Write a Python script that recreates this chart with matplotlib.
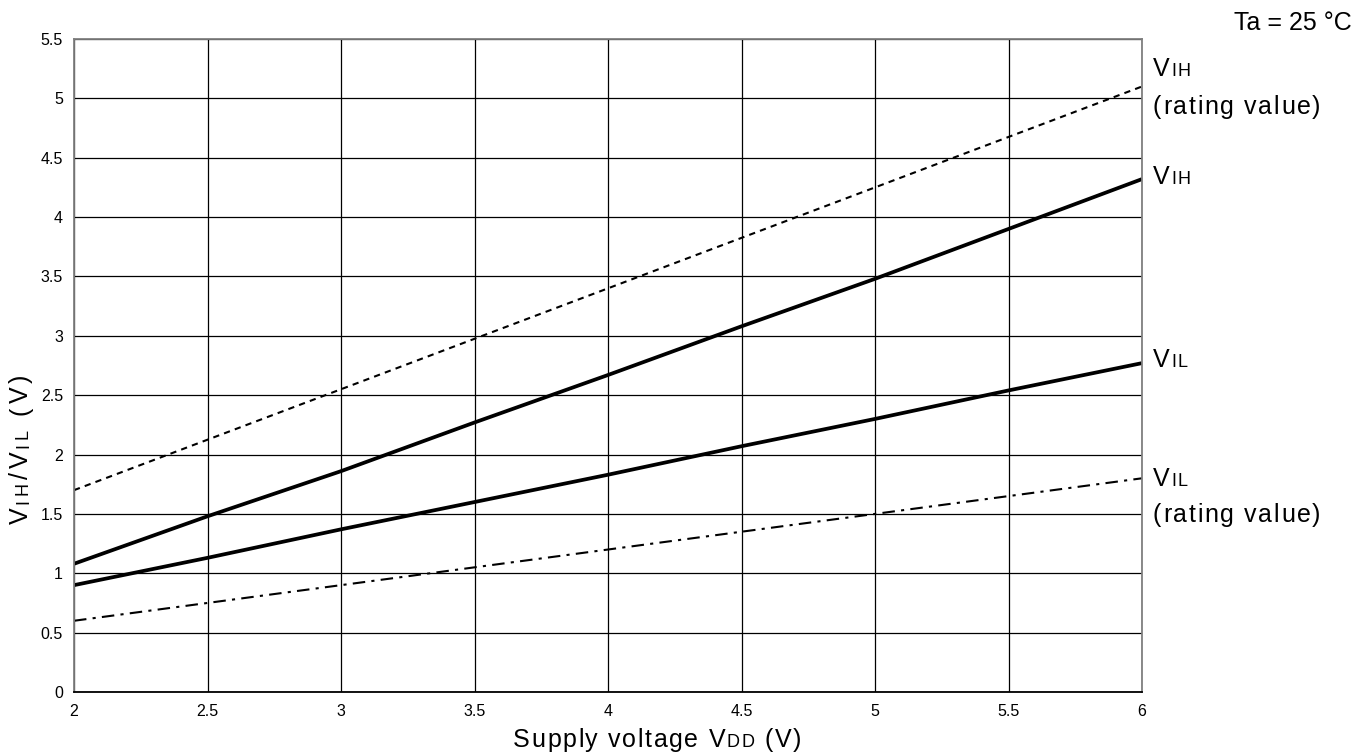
import matplotlib
matplotlib.use("Agg")
import matplotlib.pyplot as plt

plt.rcParams['font.family'] = ['Liberation Sans', 'DejaVu Sans']

vdd = [2, 2.5, 3, 3.5, 4, 4.5, 5, 5.5, 6]
vih_rating = [1.70, 2.125, 2.55, 2.975, 3.40, 3.825, 4.25, 4.675, 5.10]
vih = [1.08, 1.48, 1.86, 2.27, 2.67, 3.08, 3.48, 3.90, 4.32]
vil = [0.90, 1.13, 1.37, 1.60, 1.83, 2.07, 2.30, 2.54, 2.77]
vil_rating = [0.60, 0.75, 0.90, 1.05, 1.20, 1.35, 1.50, 1.65, 1.80]

xticks = [2, 2.5, 3, 3.5, 4, 4.5, 5, 5.5, 6]
xticklabels = ['2', '2.5', '3', '3.5', '4', '4.5', '5', '5.5', '6']
yticks = [0, 0.5, 1, 1.5, 2, 2.5, 3, 3.5, 4, 4.5, 5, 5.5]
yticklabels = ['0', '0.5', '1', '1.5', '2', '2.5', '3', '3.5', '4', '4.5', '5', '5.5']

W, H = 1372, 755
fig = plt.figure(figsize=(W/100, H/100), dpi=100)
ax = fig.add_axes([74/W, 1-692/H, (1142-74)/W, (692-39)/H])

ax.set_xlim(2, 6)
ax.set_ylim(0, 5.5)
ax.set_xticks(xticks)
ax.set_xticklabels(xticklabels, fontsize=11.5)
ax.set_yticks(yticks)
ax.set_yticklabels(yticklabels, fontsize=11.5)
ax.tick_params(length=0)
ax.tick_params(axis='x', pad=9)
ax.tick_params(axis='y', pad=8)
ax.grid(True, color='black', linewidth=0.9)
ax.set_axisbelow(True)
for s in ['left', 'right', 'top']:
    ax.spines[s].set_color('#808080')
    ax.spines[s].set_linewidth(1.3)
ax.spines['bottom'].set_color('black')
ax.spines['bottom'].set_linewidth(1.3)

ax.plot(vdd, vih_rating, color='black', linewidth=1.5, linestyle=(0, (3, 2.5)), clip_on=False)
ax.plot(vdd, vih, color='black', linewidth=2.7, solid_capstyle='butt')
ax.plot(vdd, vil, color='black', linewidth=2.7, solid_capstyle='butt')
ax.plot(vdd, vil_rating, color='black', linewidth=1.5, linestyle=(0, (6, 3, 1.5, 3)), clip_on=False)

BIG = 18
SMALL = 13
TRACK = 1.2  # extra letter spacing in points


def tracked(xpix, ypix, segments, track=TRACK, rotation=0):
    """Draw text with letter spacing; (xpix, ypix) = start point on the baseline."""
    x0, y0 = xpix / W, 1 - ypix / H
    prev = None
    pending = 0.0
    for txt, size in segments:
        for ch in txt:
            if ch == ' ':
                pending += 0.278 * size + track
                continue
            if prev is None:
                xy, xyc = (x0, y0), 'figure fraction'
                d = pending
            else:
                d = pending + track
                if rotation == 0:
                    xy, xyc = (1, y0), (prev, 'figure fraction')
                else:
                    xy, xyc = (x0, 1), ('figure fraction', prev)
            off = (d, 0) if rotation == 0 else (0, d)
            prev = ax.annotate(ch, xy=xy, xycoords=xyc, xytext=off,
                               textcoords='offset points', fontsize=size,
                               rotation=rotation, rotation_mode='anchor',
                               ha='left', va='baseline', annotation_clip=False)
            pending = 0.0
    return prev


# x label
tracked(513, 747, [("Supply voltage V", BIG), ("DD", SMALL), (" (V)", BIG)])

# y label
tracked(28, 524, [("V", BIG), ("IH", SMALL), ("/V", BIG), ("IL", SMALL), (" (V)", BIG)],
        track=2.6, rotation=90)

# right-hand labels
tracked(1153, 76, [("V", BIG), ("IH", SMALL)])
tracked(1153, 114, [("(rating value)", BIG)])
tracked(1153, 184, [("V", BIG), ("IH", SMALL)])
tracked(1153, 367, [("V", BIG), ("IL", SMALL)])
tracked(1153, 486, [("V", BIG), ("IL", SMALL)])
tracked(1153, 522, [("(rating value)", BIG)])

fig.text(1352/W, 1-30/H, "Ta = 25 °C", fontsize=18, ha='right', va='baseline')

fig.savefig("out.png", dpi=100)
